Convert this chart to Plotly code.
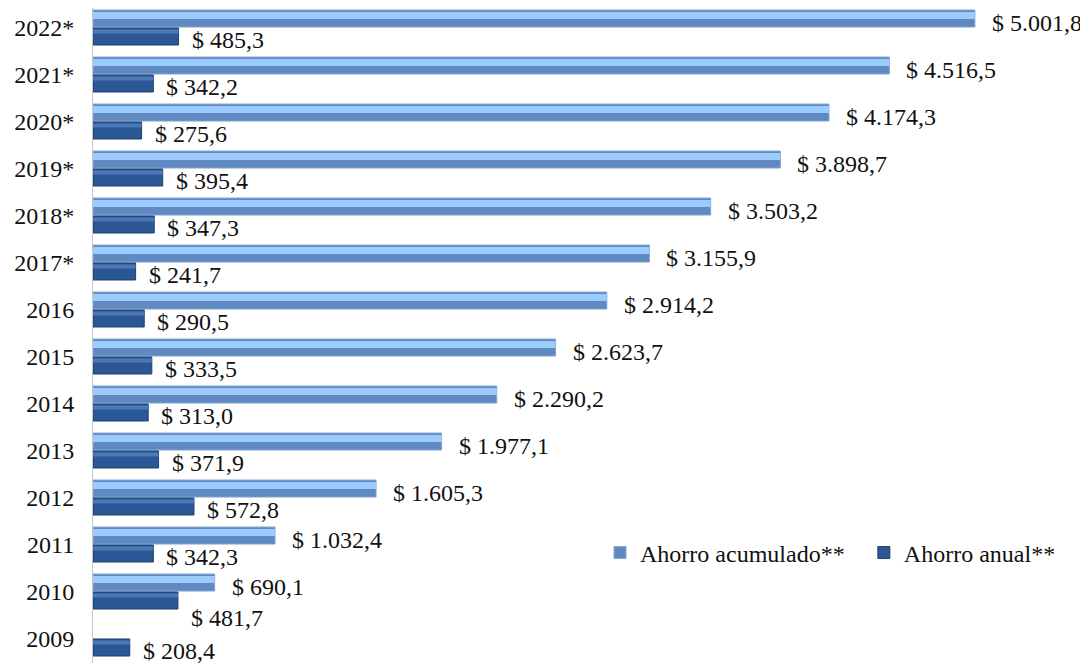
import plotly.graph_objects as go

# ---- data ----
years = ["2022*", "2021*", "2020*", "2019*", "2018*", "2017*", "2016",
         "2015", "2014", "2013", "2012", "2011", "2010", "2009"]
ahorro_acumulado = [5001.8, 4516.5, 4174.3, 3898.7, 3503.2, 3155.9, 2914.2,
                    2623.7, 2290.2, 1977.1, 1605.3, 1032.4, 690.1, None]
ahorro_anual = [485.3, 342.2, 275.6, 395.4, 347.3, 241.7, 290.5,
                333.5, 313.0, 371.9, 572.8, 342.3, 481.7, 208.4]
series_names = ["Ahorro acumulado**", "Ahorro anual**"]
unit_title = "Millones de dólares"


def fmt(v):
    s = f"{v:,.1f}"  # 5,001.8
    s = s.replace(",", "X").replace(".", ",").replace("X", ".")
    return "$ " + s


FONT = "Liberation Serif, Times New Roman, serif"
FS = 24
TXT = "#111111"
LIGHT = "#5f89c1"
LIGHT_HI = "#9dcbfd"
DARK = "#2b5794"
DARK_HI = "#4a79b8"

BAR_W = 0.362
OFF_LIGHT = -0.372
OFF_DARK = 0.01

fig = go.Figure()

# base bars
fig.add_trace(go.Bar(
    y=years, x=ahorro_acumulado, orientation="h", name=series_names[0],
    width=BAR_W, offset=OFF_LIGHT, legend="legend",
    marker=dict(color=LIGHT, line=dict(color="#86a6d2", width=1)),
    hoverinfo="skip"))
fig.add_trace(go.Bar(
    y=years, x=ahorro_anual, orientation="h", name=series_names[1],
    width=BAR_W, offset=OFF_DARK, legend="legend2",
    marker=dict(color=DARK, line=dict(color="#1f3f6e", width=1)),
    hoverinfo="skip"))
# highlight bands (bevel look)
fig.add_trace(go.Bar(
    y=years, x=ahorro_acumulado, orientation="h", showlegend=False,
    width=0.15, offset=OFF_LIGHT + 0.04,
    marker=dict(color=LIGHT_HI, line=dict(width=0)), hoverinfo="skip"))
fig.add_trace(go.Bar(
    y=years, x=ahorro_anual, orientation="h", showlegend=False,
    width=0.09, offset=OFF_DARK + 0.03,
    marker=dict(color=DARK_HI, line=dict(width=0)), hoverinfo="skip"))

# value labels (y given as category index)
annotations = []
for i, (a, b) in enumerate(zip(ahorro_acumulado, ahorro_anual)):
    if a is not None:
        annotations.append(dict(
            x=a, y=i, xref="x", yref="y", text=fmt(a), showarrow=False,
            xanchor="left", yanchor="middle", xshift=15, yshift=5,
            font=dict(family=FONT, size=FS, color=TXT)))
    extra = 0
    if a is not None and a - b < 500:
        extra = -14
    annotations.append(dict(
        x=b, y=i, xref="x", yref="y", text=fmt(b), showarrow=False,
        xanchor="left", yanchor="middle", xshift=11, yshift=-12.5 + extra,
        font=dict(family=FONT, size=FS, color=TXT)))

# clipped unit title at top-left
annotations.append(dict(
    x=0.0132, y=1.0, xref="paper", yref="paper",
    text=unit_title, showarrow=False, xanchor="right", yanchor="bottom",
    yshift=-4, font=dict(family=FONT, size=20, color="#2f74d0")))

legend_style = dict(orientation="h", yanchor="middle", xanchor="left",
                    font=dict(family=FONT, size=FS, color=TXT),
                    bgcolor="rgba(0,0,0,0)")

fig.update_layout(
    width=1080, height=655,
    margin=dict(l=85, r=8, t=0, b=0),
    paper_bgcolor="white", plot_bgcolor="white",
    barmode="overlay",
    showlegend=True,
    legend=dict(x=0.5137, y=0.168, **legend_style),
    legend2=dict(x=0.781, y=0.168, **legend_style),
    annotations=annotations,
    font=dict(family=FONT, size=FS, color=TXT),
)
fig.update_xaxes(range=[0, 5598], showticklabels=False, showgrid=False,
                 zeroline=False, showline=False, fixedrange=True)
fig.update_yaxes(type="category", categoryorder="array", categoryarray=years,
                 range=[13.521, -0.415], showgrid=False, zeroline=False,
                 showline=True, linecolor="#c6c6c6", linewidth=1, ticks="",
                 ticklabelstandoff=13, automargin=False,
                 tickfont=dict(family=FONT, size=FS, color=TXT))

fig.write_html("out.html")
